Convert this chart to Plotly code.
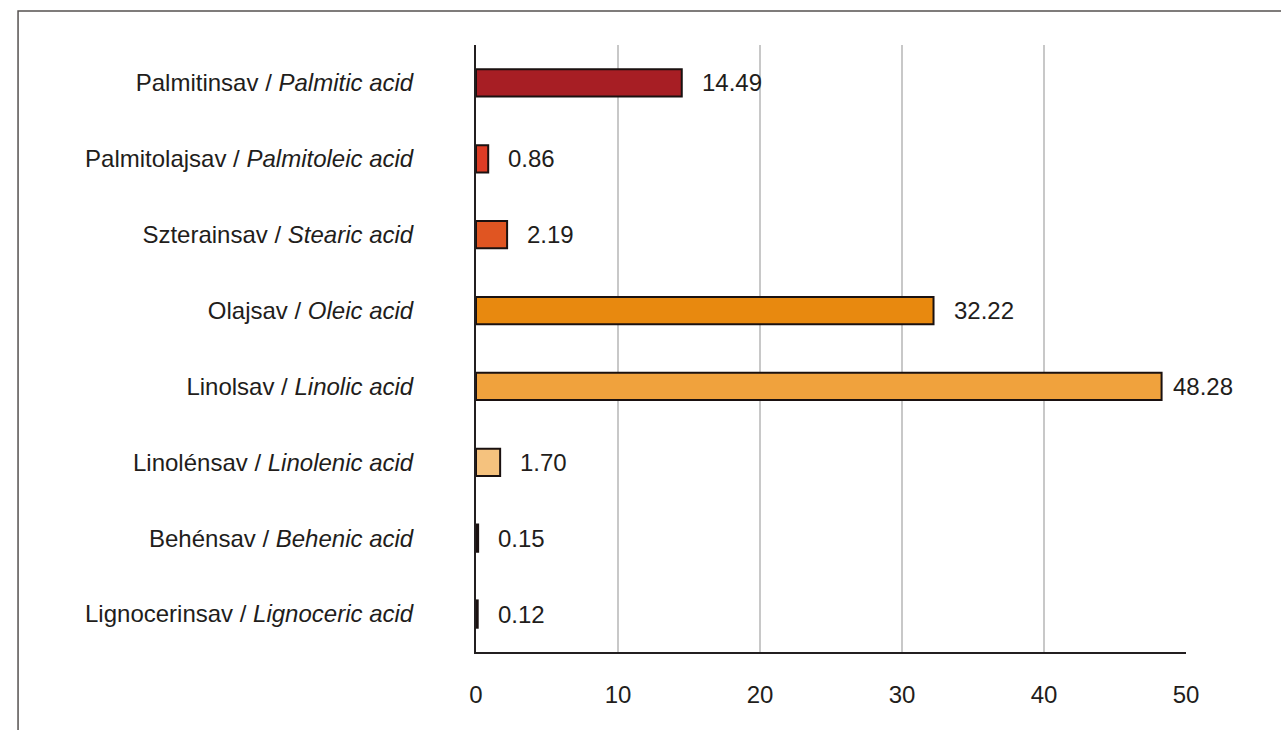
import plotly.graph_objects as go

# Fatty acid composition (%)
names_hu = ["Palmitinsav", "Palmitolajsav", "Szterainsav", "Olajsav",
            "Linolsav", "Linolénsav", "Behénsav", "Lignocerinsav"]
names_en = ["Palmitic acid", "Palmitoleic acid", "Stearic acid", "Oleic acid",
            "Linolic acid", "Linolenic acid", "Behenic acid", "Lignoceric acid"]
values = [14.49, 0.86, 2.19, 32.22, 48.28, 1.70, 0.15, 0.12]
colors = ["#a71e24", "#dc3c25", "#e05522", "#e8890f",
          "#f0a23d", "#f5c27e", "#1a1a1a", "#1a1a1a"]
x_ticks = [0, 10, 20, 30, 40, 50]

labels = [f"{hu} / <i>{en}</i>" for hu, en in zip(names_hu, names_en)]
text_color = "#221d1b"
font = dict(family="Liberation Sans, Arial, Helvetica, sans-serif", size=24, color=text_color)

fig = go.Figure()
fig.add_trace(go.Bar(
    x=values, y=labels, orientation="h",
    marker=dict(color=colors, line=dict(color="#1a1110", width=2)),
    width=0.36, showlegend=False, hoverinfo="x+y",
))

# value labels next to each bar end; the longest bar's label sits closer
label_gap = {"Linolsav": 9}
for hu, lab, v in zip(names_hu, labels, values):
    fig.add_annotation(x=v, y=lab, text=f"{v:.2f}", showarrow=False,
                       xanchor="left", yanchor="middle",
                       xshift=label_gap.get(hu, 18), font=font)

# outer frame
fig.add_shape(type="rect", xref="paper", yref="paper",
              x0=-0.645, x1=1.3, y0=-0.3, y1=1.056,
              line=dict(color="#555250", width=1.5), fillcolor="rgba(0,0,0,0)",
              layer="below")

fig.update_layout(
    width=1281, height=730,
    margin=dict(l=476, r=95, t=45, b=78),
    paper_bgcolor="white", plot_bgcolor="white",
    font=font,
    xaxis=dict(range=[0, 50], tickvals=x_ticks, ticktext=[str(t) for t in x_ticks],
               showgrid=True, gridcolor="#c8c8c8", gridwidth=2,
               showline=True, linecolor="#231f20", linewidth=2,
               zeroline=False, ticks="", ticklabelstandoff=20,
               tickfont=font, fixedrange=True),
    yaxis=dict(autorange="reversed", showgrid=False,
               showline=True, linecolor="#231f20", linewidth=2,
               zeroline=False, ticks="", ticklabelstandoff=56,
               tickfont=font, fixedrange=True),
)

fig.write_html("out.html")
